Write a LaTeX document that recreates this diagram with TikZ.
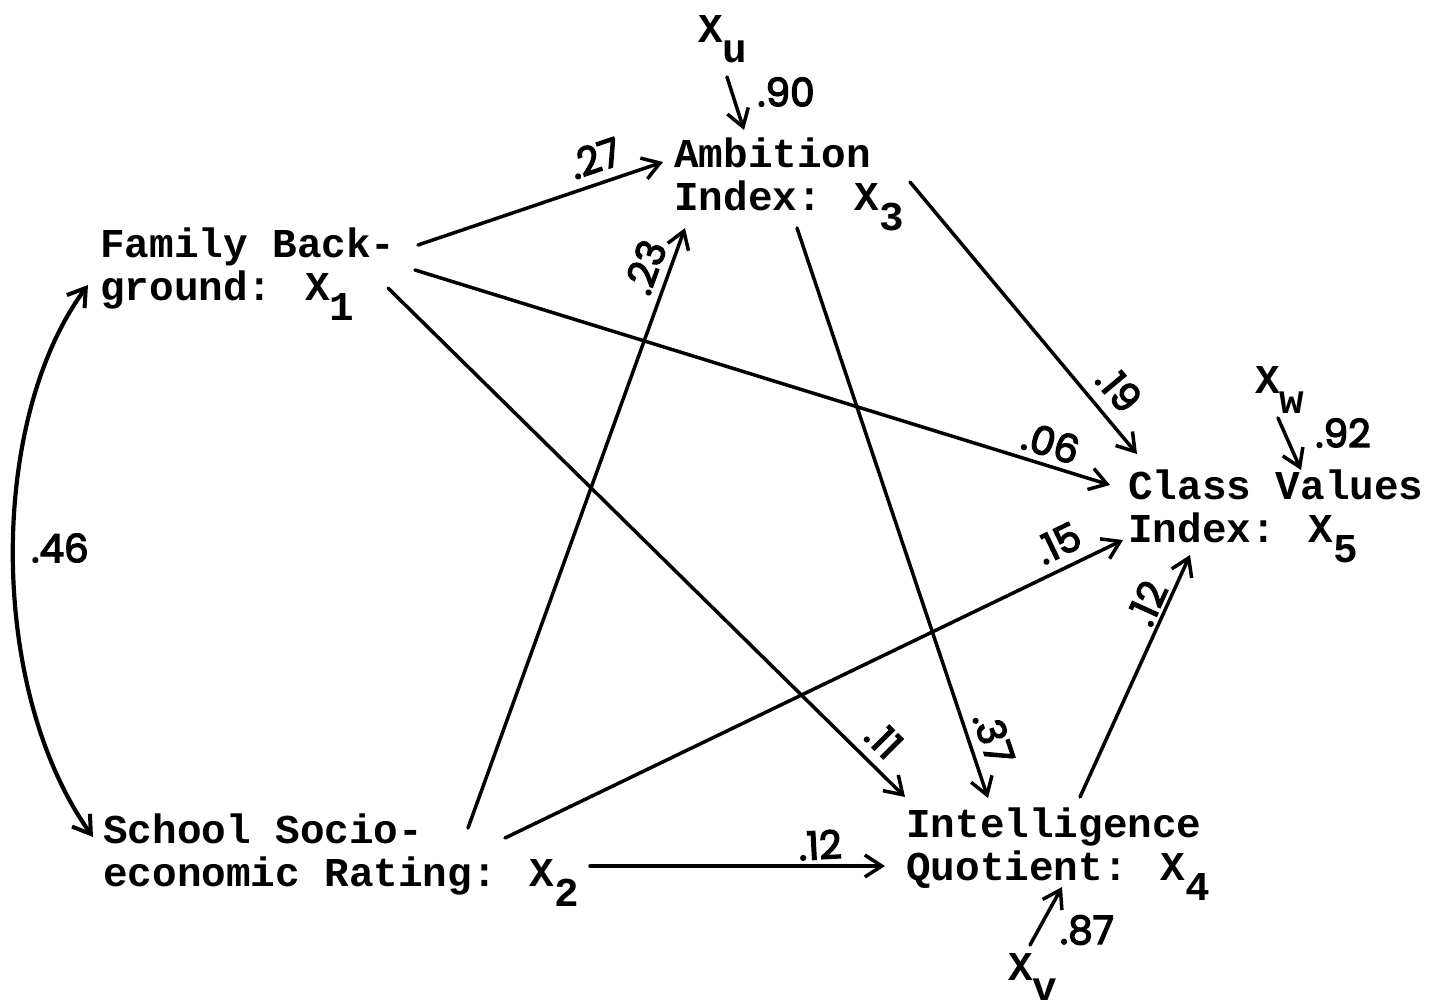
\documentclass[tikz,border=0pt]{standalone}
\usepackage{fontspec}
\newfontfamily\tw{Liberation Mono}
\newfontfamily\hand{Poppins}[FakeBold=3.5]
\usetikzlibrary{arrows.meta}
\newcommand{\sbs}[1]{\smash{\raisebox{-20pt}{#1}}}
\newcommand{\twolines}[2]{\begin{tabular}[t]{@{}l@{}}#1\\#2\end{tabular}}
\tikzset{
  lbl/.style={font=\tw\bfseries\fontsize{41}{43}\selectfont, anchor=base west, inner sep=0pt},
  coef/.style={font=\hand\fontsize{39}{39}\selectfont, inner sep=0pt},
  conn/.style={line width=3.5pt, line cap=round, -{Straight Barb[length=17pt,width=22pt,line width=3.5pt]}},
  bconn/.style={line width=4.2pt, line cap=round, {Straight Barb[length=17pt,width=22pt,line width=4pt]}-{Straight Barb[length=17pt,width=22pt,line width=4pt]}}
}
\begin{document}
\begin{tikzpicture}[x=1pt,y=-1pt]
\useasboundingbox (0,0) rectangle (1436,1007);
% variable nodes
\node[lbl] (x1) at (100,257) {\twolines{Family Back-}{ground: X\sbs{1}}};
\node[lbl] (x2) at (103,843) {\twolines{School Socio-}{economic Rating: X\sbs{2}}};
\node[lbl] (x3) at (674,167) {\twolines{Ambition}{Index: X\sbs{3}}};
\node[lbl] (x4) at (906,837) {\twolines{Intelligence}{Quotient: X\sbs{4}}};
\node[lbl] (x5) at (1128,499) {\twolines{Class Values}{Index: X\sbs{5}}};
\node[lbl] (xu) at (698,42) {X\sbs{u}};
\node[lbl] (xw) at (1255,393) {X\sbs{w}};
\node[lbl] (xv) at (1008,980) {X\sbs{v}};
% connector end points
\coordinate (p13) at (418,245);  \coordinate (q13) at (663,162);
\coordinate (p15) at (415,270);  \coordinate (q15) at (1110,485);
\coordinate (p14) at (388,288);  \coordinate (q14) at (905,797);
\coordinate (p23) at (468,828);  \coordinate (q23) at (685,228);
\coordinate (p25) at (505,838);  \coordinate (q25) at (1123,540);
\coordinate (p24) at (590,866);  \coordinate (q24) at (885,866);
\coordinate (p34) at (797,228);  \coordinate (q34) at (988,798);
\coordinate (p35) at (910,182);  \coordinate (q35) at (1137,454);
\coordinate (p45) at (1080,797); \coordinate (q45) at (1190,555);
\coordinate (pu) at (727,77);    \coordinate (qu) at (744,130);
\coordinate (pw) at (1278,418);  \coordinate (qw) at (1301,470);
\coordinate (pv) at (1030,945);  \coordinate (qv) at (1062,887);
\coordinate (c1) at (88,285);    \coordinate (c2) at (93,837);
% connectors
\draw[conn] (p13) -- (q13);
\draw[conn] (p15) -- (q15);
\draw[conn] (p14) -- (q14);
\draw[conn] (p23) -- (q23);
\draw[conn] (p25) -- (q25);
\draw[conn] (p24) -- (q24);
\draw[conn] (p34) -- (q34);
\draw[conn] (p35) -- (q35);
\draw[conn] (p45) -- (q45);
\draw[conn] (pu) -- (qu);
\draw[conn] (pw) -- (qw);
\draw[conn] (pv) -- (qv);
\draw[bconn] (c1) .. controls (-12,420) and (-12,690) .. (c2);
% coefficients
\node[coef, rotate=18.7] (k13) at (595,158) {.27};
\node[coef, rotate=-17.3] (k15) at (1051,443) {.06};
\node[coef, rotate=-45] (k14) at (884,740) {.11};
\node[coef, rotate=70] (k23) at (645,267) {.23};
\node[coef, rotate=25.7] (k25) at (1058,543) {.15};
\node[coef, rotate=3] (k24) at (820,845) {.12};
\node[coef, rotate=-71.5] (k34) at (994,738) {.37};
\node[coef, rotate=-50] (k35) at (1119,389) {.19};
\node[coef, rotate=65.6] (k45) at (1147,603) {.12};
\node[coef] (ku) at (786,92) {.90};
\node[coef] (kw) at (1343,433) {.92};
\node[coef] (kv) at (1087,930) {.87};
\node[coef] (k12) at (60,548) {.46};
\end{tikzpicture}
\end{document}
